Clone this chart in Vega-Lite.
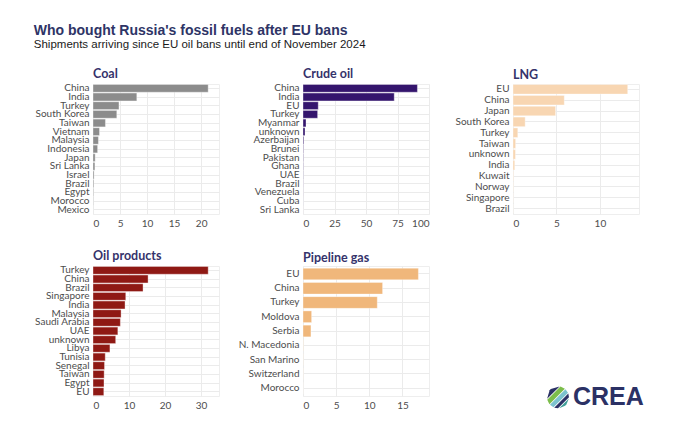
{
  "$schema": "https://vega.github.io/schema/vega-lite/v6.json",
  "padding": {"left": 33, "top": 24, "right": 10, "bottom": 10},
  "title": {
    "text": "Who bought Russia's fossil fuels after EU bans",
    "subtitle": "Shipments arriving since EU oil bans until end of November 2024",
    "anchor": "start",
    "frame": "bounds",
    "font": "Liberation Sans",
    "fontSize": 14,
    "fontWeight": "bold",
    "color": "#2e3466",
    "subtitleFont": "Liberation Sans",
    "subtitleFontSize": 11.5,
    "subtitleColor": "#1a1a1a",
    "subtitlePadding": 1,
    "offset": 17
  },
  "datasets": {
    "shipments": [
      {"fuel": "Coal", "country": "China", "value": 21.3},
      {"fuel": "Coal", "country": "India", "value": 8.1},
      {"fuel": "Coal", "country": "Turkey", "value": 4.8},
      {"fuel": "Coal", "country": "South Korea", "value": 4.4},
      {"fuel": "Coal", "country": "Taiwan", "value": 2.3},
      {"fuel": "Coal", "country": "Vietnam", "value": 1.2},
      {"fuel": "Coal", "country": "Malaysia", "value": 1.0},
      {"fuel": "Coal", "country": "Indonesia", "value": 0.85},
      {"fuel": "Coal", "country": "Japan", "value": 0.4},
      {"fuel": "Coal", "country": "Sri Lanka", "value": 0.35},
      {"fuel": "Coal", "country": "Israel", "value": 0.2},
      {"fuel": "Coal", "country": "Brazil", "value": 0.15},
      {"fuel": "Coal", "country": "Egypt", "value": 0.1},
      {"fuel": "Coal", "country": "Morocco", "value": 0.05},
      {"fuel": "Coal", "country": "Mexico", "value": 0.02},
      {"fuel": "Crude oil", "country": "China", "value": 90.8},
      {"fuel": "Crude oil", "country": "India", "value": 72.4},
      {"fuel": "Crude oil", "country": "EU", "value": 12.1},
      {"fuel": "Crude oil", "country": "Turkey", "value": 11.6},
      {"fuel": "Crude oil", "country": "Myanmar", "value": 2.4},
      {"fuel": "Crude oil", "country": "unknown", "value": 1.6},
      {"fuel": "Crude oil", "country": "Azerbaijan", "value": 0.6},
      {"fuel": "Crude oil", "country": "Brunei", "value": 0.3},
      {"fuel": "Crude oil", "country": "Pakistan", "value": 0.25},
      {"fuel": "Crude oil", "country": "Ghana", "value": 0.2},
      {"fuel": "Crude oil", "country": "UAE", "value": 0.15},
      {"fuel": "Crude oil", "country": "Brazil", "value": 0.1},
      {"fuel": "Crude oil", "country": "Venezuela", "value": 0.08},
      {"fuel": "Crude oil", "country": "Cuba", "value": 0.05},
      {"fuel": "Crude oil", "country": "Sri Lanka", "value": 0.03},
      {"fuel": "LNG", "country": "EU", "value": 13.2},
      {"fuel": "LNG", "country": "China", "value": 5.9},
      {"fuel": "LNG", "country": "Japan", "value": 4.9},
      {"fuel": "LNG", "country": "South Korea", "value": 1.4},
      {"fuel": "LNG", "country": "Turkey", "value": 0.55},
      {"fuel": "LNG", "country": "Taiwan", "value": 0.3},
      {"fuel": "LNG", "country": "unknown", "value": 0.28},
      {"fuel": "LNG", "country": "India", "value": 0.2},
      {"fuel": "LNG", "country": "Kuwait", "value": 0.05},
      {"fuel": "LNG", "country": "Norway", "value": 0.03},
      {"fuel": "LNG", "country": "Singapore", "value": 0.02},
      {"fuel": "LNG", "country": "Brazil", "value": 0.01},
      {"fuel": "Oil products", "country": "Turkey", "value": 32.0},
      {"fuel": "Oil products", "country": "China", "value": 15.3},
      {"fuel": "Oil products", "country": "Brazil", "value": 13.9},
      {"fuel": "Oil products", "country": "Singapore", "value": 9.1},
      {"fuel": "Oil products", "country": "India", "value": 8.9},
      {"fuel": "Oil products", "country": "Malaysia", "value": 7.8},
      {"fuel": "Oil products", "country": "Saudi Arabia", "value": 7.6},
      {"fuel": "Oil products", "country": "UAE", "value": 6.9},
      {"fuel": "Oil products", "country": "unknown", "value": 6.3},
      {"fuel": "Oil products", "country": "Libya", "value": 4.7},
      {"fuel": "Oil products", "country": "Tunisia", "value": 3.4},
      {"fuel": "Oil products", "country": "Senegal", "value": 3.2},
      {"fuel": "Oil products", "country": "Taiwan", "value": 3.1},
      {"fuel": "Oil products", "country": "Egypt", "value": 3.05},
      {"fuel": "Oil products", "country": "EU", "value": 3.0},
      {"fuel": "Pipeline gas", "country": "EU", "value": 17.4},
      {"fuel": "Pipeline gas", "country": "China", "value": 12.0},
      {"fuel": "Pipeline gas", "country": "Turkey", "value": 11.2},
      {"fuel": "Pipeline gas", "country": "Moldova", "value": 1.3},
      {"fuel": "Pipeline gas", "country": "Serbia", "value": 1.2},
      {"fuel": "Pipeline gas", "country": "N. Macedonia", "value": 0.03},
      {"fuel": "Pipeline gas", "country": "San Marino", "value": 0.02},
      {"fuel": "Pipeline gas", "country": "Switzerland", "value": 0.015},
      {"fuel": "Pipeline gas", "country": "Morocco", "value": 0.01}
    ],
    "logo": [
      {"part": "a"},
      {"part": "b"},
      {"part": "c"},
      {"part": "d"},
      {"part": "e"}
    ]
  },
  "columns": 3,
  "bounds": "flush",
  "spacing": {"row": 52, "column": 84},
  "concat": [
    {
      "title": "Coal",
      "width": 126,
      "height": 130,
      "data": {"name": "shipments"},
      "transform": [{"filter": "datum.fuel === 'Coal'"}],
      "mark": {"type": "bar", "color": "#8c8c8c"},
      "encoding": {
        "y": {"field": "country", "type": "nominal", "sort": "-x", "scale": {"paddingInner": 0.1, "paddingOuter": 0.05}},
        "x": {"field": "value", "type": "quantitative", "scale": {"domain": [0, 23.3], "nice": false}, "axis": {"values": [0, 5, 10, 15, 20]}}
      }
    },
    {
      "title": "Crude oil",
      "width": 126,
      "height": 130,
      "data": {"name": "shipments"},
      "transform": [{"filter": "datum.fuel === 'Crude oil'"}],
      "mark": {"type": "bar", "color": "#34156d"},
      "encoding": {
        "y": {"field": "country", "type": "nominal", "sort": "-x", "scale": {"paddingInner": 0.1, "paddingOuter": 0.05}},
        "x": {"field": "value", "type": "quantitative", "scale": {"domain": [0, 100], "nice": false}, "axis": {"values": [0, 25, 50, 75, 100]}}
      }
    },
    {
      "title": "LNG",
      "width": 126,
      "height": 130,
      "data": {"name": "shipments"},
      "transform": [{"filter": "datum.fuel === 'LNG'"}],
      "mark": {"type": "bar", "color": "#f8d6b2"},
      "encoding": {
        "y": {"field": "country", "type": "nominal", "sort": "-x", "scale": {"paddingInner": 0.12, "paddingOuter": 0.05}},
        "x": {"field": "value", "type": "quantitative", "scale": {"domain": [0, 14.5], "nice": false}, "axis": {"values": [0, 5, 10]}}
      }
    },
    {
      "title": "Oil products",
      "width": 126,
      "height": 130,
      "data": {"name": "shipments"},
      "transform": [{"filter": "datum.fuel === 'Oil products'"}],
      "mark": {"type": "bar", "color": "#8f1914"},
      "encoding": {
        "y": {"field": "country", "type": "nominal", "sort": "-x", "scale": {"paddingInner": 0.1, "paddingOuter": 0.05}},
        "x": {"field": "value", "type": "quantitative", "scale": {"domain": [0, 35], "nice": false}, "axis": {"values": [0, 10, 20, 30]}}
      }
    },
    {
      "title": "Pipeline gas",
      "width": 126,
      "height": 130,
      "data": {"name": "shipments"},
      "transform": [{"filter": "datum.fuel === 'Pipeline gas'"}],
      "mark": {"type": "bar", "color": "#f0b77b"},
      "encoding": {
        "y": {"field": "country", "type": "nominal", "sort": "-x", "scale": {"paddingInner": 0.18, "paddingOuter": 0.15}},
        "x": {"field": "value", "type": "quantitative", "scale": {"domain": [0, 19], "nice": false}, "axis": {"values": [0, 5, 10, 15]}}
      }
    },
    {
      "width": 126,
      "height": 130,
      "view": {"stroke": null},
      "layer": [
        {
          "data": {"name": "logo"},
          "mark": {"type": "point", "filled": true, "size": 484, "opacity": 1},
          "encoding": {
            "x": {"datum": 0.357, "type": "quantitative", "scale": {"domain": [0, 1]}, "axis": null},
            "y": {"datum": -0.01, "type": "quantitative", "scale": {"domain": [0, 1]}, "axis": null},
            "shape": {
              "field": "part",
              "type": "nominal",
              "legend": null,
              "scale": {
                "domain": ["a", "b", "c", "d", "e"],
                "range": [
                  "M -0.65 -0.76 L 0.14 -0.99 L -0.99 0.14 L -0.76 -0.65 Z",
                  "M 0.224 -0.974 L 0.628 -0.778 L -0.778 0.628 L -0.974 0.224 Z",
                  "M 0.682 -0.732 L 0.911 -0.411 L -0.411 0.911 L -0.732 0.682 Z",
                  "M 0.94 -0.34 L 1 0 L 0 1 L -0.34 0.94 Z",
                  "M 0.994 0.106 L 0.76 0.65 L 0.65 0.76 L 0.106 0.994 Z"
                ]
              }
            },
            "color": {
              "field": "part",
              "type": "nominal",
              "legend": null,
              "scale": {
                "domain": ["a", "b", "c", "d", "e"],
                "range": ["#2b3165", "#7cbd4b", "#7cc3cf", "#2b3165", "#3f9e98"]
              }
            }
          }
        },
        {
          "data": {"values": [{"label": "CREA"}]},
          "mark": {"type": "text", "font": "Liberation Sans", "fontSize": 25, "fontWeight": "bold", "color": "#2b3165", "align": "left", "baseline": "middle"},
          "encoding": {
            "x": {"datum": 0.476, "type": "quantitative"},
            "y": {"datum": -0.01, "type": "quantitative"},
            "text": {"field": "label"}
          }
        }
      ]
    }
  ],
  "config": {
    "font": "Lato",
    "view": {"stroke": "#eeeeee"},
    "bar": {"stroke": "white", "strokeWidth": 0.6, "strokeOpacity": 0.6},
    "title": {"anchor": "start", "frame": "group", "font": "Lato", "fontSize": 12.5, "fontWeight": "bold", "color": "#35336b", "offset": 2},
    "axis": {
      "title": null,
      "domain": false,
      "ticks": false,
      "labelFont": "Lato",
      "labelFontSize": 10,
      "labelColor": "#4d4d4d",
      "gridColor": "#ebebeb",
      "grid": true
    },
    "axisY": {"labelPadding": 4, "bandPosition": 0.5},
    "axisX": {"labelPadding": 4}
  }
}
